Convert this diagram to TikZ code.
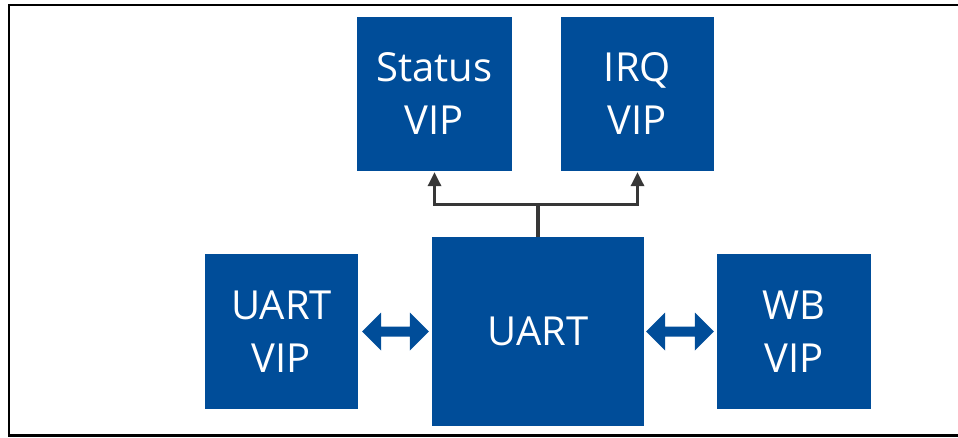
\documentclass[tikz,border=0pt]{standalone}
\usepackage{fontspec}
\setmainfont{Open Sans}
\usetikzlibrary{calc,arrows.meta}
\definecolor{vipblue}{RGB}{0,77,153}
\definecolor{wiregray}{RGB}{55,55,55}
\tikzset{
  vip/.style={fill=vipblue, draw=none, text=white, inner sep=0pt, align=center,
    font=\fontsize{40}{53}\selectfont},
  wire/.style={draw=wiregray, line width=3.2pt},
  wirearrow/.style={wire, -{Triangle[length=14pt,width=13pt]}},
}
\newcommand\dblarrow[2]{%
  \fill[vipblue] (#1) -- ++(19,-19) -- ++(0,14) -- ($(#2)+(-19,-5)$) -- ++(0,-14) -- (#2)
    -- ++(-19,19) -- ++(0,-14) -- ($(#1)+(19,5)$) -- ++(0,14) -- cycle;}
\begin{document}
\begin{tikzpicture}[x=1pt,y=-1pt]
\useasboundingbox (0,0) rectangle (958,438);
\begin{scope}
\clip (0,0) rectangle (958,438);
\draw[line width=2.4pt] (9,5) rectangle (975,435.5);
\end{scope}
\node[vip, minimum width=155pt, minimum height=154pt] (status) at (434.5,94) {Status\\VIP};
\node[vip, minimum width=153pt, minimum height=154pt] (irq) at (637.5,94) {IRQ\\VIP};
\node[vip, minimum width=153pt, minimum height=155pt] (uvip) at (281.5,331.5) {UART\\VIP};
\node[vip, minimum width=212pt, minimum height=188pt] (uart) at (538,331.5) {UART};
\node[vip, minimum width=154pt, minimum height=155pt] (wb) at (794,331.5) {WB\\VIP};
\coordinate (split) at ($(uart.north)+(0,-33)$);
\draw[wire] (uart.north) -- (split);
\draw[wirearrow] (split) -| ($(status.south)+(0,1)$);
\draw[wirearrow] (split) -| ($(irq.south)+(0,1)$);
\coordinate (la) at ($(uvip.east)+(4,0)$);
\coordinate (lb) at ($(uart.west)+(-3,0)$);
\coordinate (ra) at ($(uart.east)+(2,0)$);
\coordinate (rb) at ($(wb.west)+(-3,0)$);
\dblarrow{la}{lb}
\dblarrow{ra}{rb}
\end{tikzpicture}
\end{document}
